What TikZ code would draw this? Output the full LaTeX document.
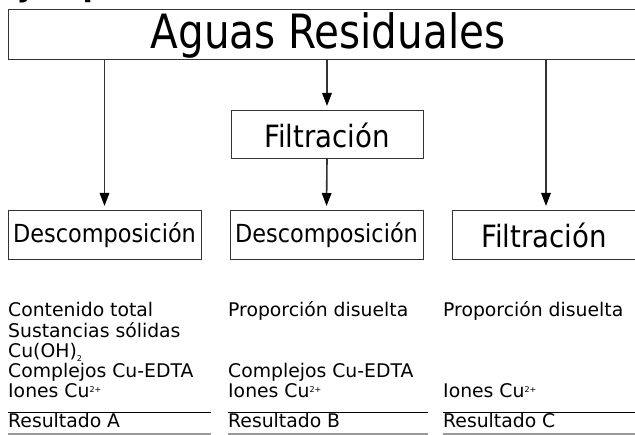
\documentclass[tikz,border=0pt]{standalone}
\usepackage{fontspec}
\setmainfont{DejaVu Sans}
\newfontfamily\cond{DejaVu Sans Condensed}
\usetikzlibrary{arrows.meta}
\definecolor{linegray}{HTML}{333333}
\definecolor{rulegray}{HTML}{999999}
\tikzset{
  boxnode/.style={draw=linegray, line width=1pt, inner sep=0pt, outer sep=0pt},
  arr/.style={draw=linegray, line width=1.6pt, -{Triangle[length=13pt,width=9.5pt,color=black]}, shorten >=5pt},
  lowtxt/.style={anchor=base west, inner sep=0pt, font=\fontsize{18.8}{20}\selectfont},
  blackrule/.style={draw=black, line width=1pt},
  grayrule/.style={draw=rulegray, line width=1.5pt}
}
\newcommand{\mysup}[1]{\raisebox{5pt}{\fontsize{8}{8}\selectfont #1}}
\newcommand{\mysub}[1]{\raisebox{-3.5pt}{\fontsize{8}{8}\selectfont #1}}
\begin{document}
\begin{tikzpicture}[x=1pt,y=-1pt]
\useasboundingbox (0,0) rectangle (635,435);
\clip (0,0) rectangle (635,435);
\node[anchor=base west, inner sep=0pt, font=\bfseries\fontsize{30}{30}\selectfont] (title) at (0,-3) {Ejemplo};
% boxes
\node[boxnode, minimum width=640pt, minimum height=50pt, anchor=north west] (top) at (8,10) {};
\node[font=\cond\fontsize{45}{45}\selectfont, inner sep=0pt] (toptxt) at (328,35) {\scalebox{1}[1.05]{Aguas Residuales}};
\node[boxnode, minimum width=192pt, minimum height=48pt, anchor=north west, font=\cond\fontsize{30.7}{31}\selectfont] (filt) at (231,111) {Filtración};
\node[boxnode, minimum width=193pt, minimum height=49pt, anchor=north west, font=\cond\fontsize{24.9}{25}\selectfont] (d1) at (8,211) {Descomposición};
\node[boxnode, minimum width=193pt, minimum height=49pt, anchor=north west, font=\cond\fontsize{24.9}{25}\selectfont] (d2) at (230,211) {Descomposición};
\node[boxnode, minimum width=188pt, minimum height=49pt, anchor=north west, font=\cond\fontsize{30.7}{31}\selectfont] (f2) at (452,211) {\hspace*{-2pt}Filtración\hspace*{2pt}};
% arrows
\draw[arr] (top.south -| d1.north) -- (d1.north);
\draw[arr] (top.south -| filt.north) -- (filt.north);
\draw[arr] (filt.south) -- (d2.north);
\draw[arr] (top.south -| 546,0) -- (546,211);
% column A
\node[lowtxt] (a1) at (8,317) {Contenido total};
\node[lowtxt] (a2) at (8,338) {Sustancias sólidas};
\node[lowtxt] (a3) at (8,358) {Cu(OH)\mysub{2}};
\node[lowtxt] (a4) at (8,378) {Complejos Cu-EDTA};
\node[lowtxt] (a5) at (8,398) {Iones Cu\mysup{2+}};
\node[lowtxt] (a6) at (8,428) {Resultado A};
% column B
\node[lowtxt] (b1) at (228,317) {Proporción disuelta};
\node[lowtxt] (b4) at (228,378) {Complejos Cu-EDTA};
\node[lowtxt] (b5) at (228,398) {Iones Cu\mysup{2+}};
\node[lowtxt] (b6) at (228,428) {Resultado B};
% column C
\node[lowtxt] (c1) at (443,317) {Proporción disuelta};
\node[lowtxt] (c5) at (443,398) {Iones Cu\mysup{2+}};
\node[lowtxt] (c6) at (443,428) {Resultado C};
% rules
\draw[blackrule] (8,412.5) -- (211,412.5);
\draw[grayrule] (8,434) -- (211,434);
\draw[blackrule] (228,412.5) -- (428,412.5);
\draw[grayrule] (228,434) -- (428,434);
\draw[blackrule] (443,412.5) -- (640,412.5);
\draw[grayrule] (443,434) -- (640,434);
\end{tikzpicture}
\end{document}
